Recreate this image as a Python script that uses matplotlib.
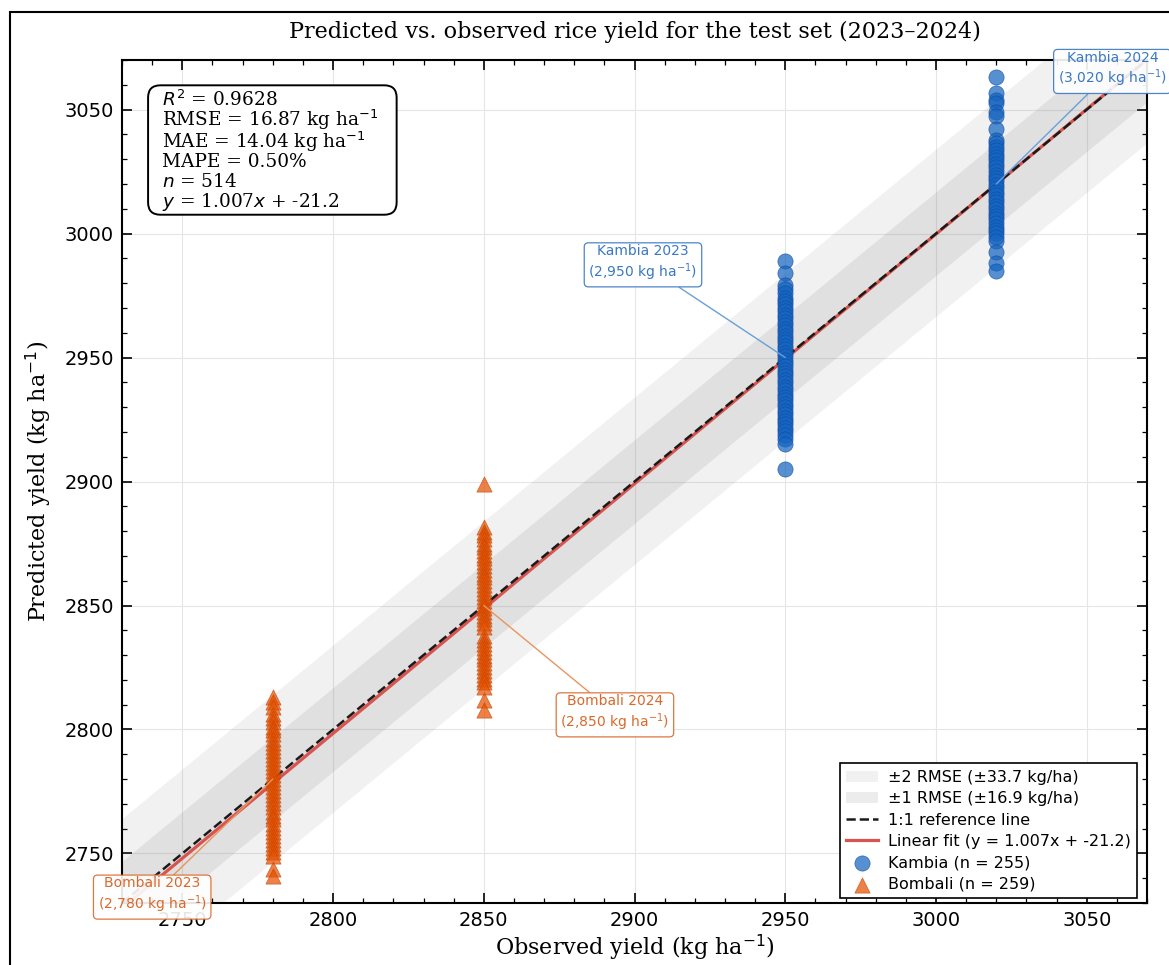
import matplotlib.pyplot as plt
import numpy as np
from matplotlib.patches import Rectangle, FancyBboxPatch
from matplotlib.ticker import MultipleLocator

# observed yield per district/year (kg/ha)
kambia_obs = [2950, 3020]
bombali_obs = [2780, 2850]

# predicted yields (kg/ha)
kambia_2023_pred = [2989.1, 2984.3, 2979.4, 2977.6, 2975.9, 2974.2, 2973.0, 2971.5, 2970.1, 2968.8,
                    2967.2, 2965.9, 2964.5, 2963.1, 2961.6, 2960.4, 2958.8, 2957.5, 2956.1, 2954.6,
                    2953.3, 2952.0, 2950.6, 2949.2, 2947.9, 2946.5, 2945.0, 2943.7, 2942.4, 2940.9,
                    2939.6, 2938.3, 2936.8, 2935.4, 2934.1, 2932.7, 2931.3, 2929.9, 2928.6, 2927.2,
                    2925.7, 2924.5, 2923.1, 2921.6, 2920.2, 2918.8, 2917.3, 2915.2, 2904.9]
kambia_2024_pred = [3063.3, 3056.6, 3053.9, 3052.5, 3049.2, 3047.6, 3042.2, 3037.8, 3036.4, 3035.1,
                    3033.7, 3032.2, 3030.9, 3029.5, 3028.0, 3026.7, 3025.3, 3023.8, 3022.5, 3021.1,
                    3019.6, 3018.3, 3016.9, 3015.4, 3014.1, 3012.7, 3011.2, 3009.9, 3008.5, 3007.0,
                    3005.7, 3004.3, 3002.8, 3001.5, 3000.1, 2998.6, 2997.0, 2992.7, 2988.0, 2985.0]
bombali_2023_pred = [2813.3, 2811.2, 2809.0, 2806.4, 2804.5, 2802.9, 2801.2, 2799.6, 2798.0, 2796.3,
                     2794.7, 2793.1, 2791.4, 2789.8, 2788.2, 2786.5, 2784.9, 2783.3, 2781.6, 2780.0,
                     2778.4, 2776.7, 2775.1, 2773.5, 2771.8, 2770.2, 2768.6, 2766.9, 2765.3, 2763.7,
                     2762.0, 2760.4, 2758.8, 2757.1, 2755.5, 2753.9, 2752.2, 2750.6, 2748.9, 2743.7,
                     2741.0]
bombali_2024_pred = [2898.9, 2881.5, 2879.8, 2878.3, 2876.7, 2875.0, 2873.6, 2872.1, 2870.4, 2869.0,
                     2867.5, 2865.9, 2864.3, 2862.8, 2861.3, 2859.7, 2858.2, 2856.6, 2855.1, 2853.6,
                     2852.0, 2850.4, 2849.0, 2847.5, 2845.9, 2844.4, 2842.8, 2841.3, 2837.6, 2836.0,
                     2834.5, 2832.9, 2831.4, 2829.8, 2828.3, 2826.7, 2825.2, 2823.6, 2822.1, 2820.5,
                     2819.0, 2817.2, 2812.0, 2808.0]

# summary stats shown on the chart
r2 = 0.9628
rmse = 16.87
mae = 14.04
mape = 0.50
n_total = 514
n_kambia = 255
n_bombali = 259
slope = 1.007
intercept = -21.2

lims = (2730, 3070)

kam_x = np.concatenate([np.full(len(kambia_2023_pred), kambia_obs[0]),
                        np.full(len(kambia_2024_pred), kambia_obs[1])])
kam_y = np.array(kambia_2023_pred + kambia_2024_pred)
bom_x = np.concatenate([np.full(len(bombali_2023_pred), bombali_obs[0]),
                        np.full(len(bombali_2024_pred), bombali_obs[1])])
bom_y = np.array(bombali_2023_pred + bombali_2024_pred)

fig = plt.figure(figsize=(11.69, 9.65), dpi=100)
ax = fig.add_axes([0.1044, 0.0642, 0.8768, 0.8736])

xl = np.array(lims)
ax.fill_between(xl, xl - 2 * rmse, xl + 2 * rmse, color='gray', alpha=0.11, lw=0,
                label='±2 RMSE (±%.1f kg/ha)' % (2 * rmse), zorder=1)
ax.fill_between(xl, xl - rmse, xl + rmse, color='gray', alpha=0.15, lw=0,
                label='±1 RMSE (±%.1f kg/ha)' % rmse, zorder=1)
ax.plot(xl, xl, '--', color='#1a1a1a', lw=1.8, label='1:1 reference line', zorder=3)
ax.plot(xl, slope * xl + intercept, '-', color='#d9534f', lw=2.3,
        label='Linear fit (y = %.3fx + %.1f)' % (slope, intercept), zorder=2)

ax.scatter(kam_x, kam_y, s=120, marker='o', color='#1565c0', alpha=0.72,
           edgecolors='#0d47a1', linewidths=0.5, label='Kambia (n = %d)' % n_kambia, zorder=4)
ax.scatter(bom_x, bom_y, s=120, marker='^', color='#e65100', alpha=0.72,
           edgecolors='#bf4300', linewidths=0.5, label='Bombali (n = %d)' % n_bombali, zorder=4)

# annotations
blue_t, blue_l = '#3a78c4', '#6a9fd8'
orng_t, orng_l = '#d9692b', '#e8955e'
ann = [
    ('Kambia 2023\n(2,950 kg ha$^{-1}$)', (2950, 2950), (2902.8, 2988), blue_t, blue_l),
    ('Kambia 2024\n(3,020 kg ha$^{-1}$)', (3020, 3020), (3058.5, 3066), blue_t, blue_l),
    ('Bombali 2024\n(2,850 kg ha$^{-1}$)', (2850, 2850), (2893.5, 2806.5), orng_t, orng_l),
    ('Bombali 2023\n(2,780 kg ha$^{-1}$)', (2780, 2780), (2740, 2733), orng_t, orng_l),
]
for txt, xy, xyt, tc, lc in ann:
    ax.annotate(txt, xy=xy, xytext=xyt, fontsize=10, color=tc, ha='center', va='center',
                annotation_clip=False, zorder=6,
                bbox=dict(boxstyle='round,pad=0.3', fc='white', ec=tc, lw=0.9, alpha=0.9),
                arrowprops=dict(arrowstyle='-', color=lc, lw=1.0, shrinkA=0, shrinkB=0))

# stats box: one text per line so the rows are evenly spaced
stats_lines = ['$R^2$ = %.4f' % r2,
               'RMSE = %.2f kg ha$^{-1}$' % rmse,
               'MAE = %.2f kg ha$^{-1}$' % mae,
               'MAPE = %.2f%%' % mape,
               '$n$ = %d' % n_total,
               '$y$ = %.3f$x$ + %.1f' % (slope, intercept)]
baselines_px = [106, 126, 148, 167, 187, 207]  # baseline of each row, px from top of figure
box = FancyBboxPatch((0.0254, 0.8165), 0.2425, 0.1535, boxstyle='round,pad=0,rounding_size=0.012',
                     transform=ax.transAxes, fc='white', ec='black', lw=1.4, zorder=7,
                     mutation_aspect=1025 / 843)
ax.add_patch(box)
for line, b in zip(stats_lines, baselines_px):
    ax.text(0.039, 1 - (b - 60) / 843, line, transform=ax.transAxes, fontsize=13.3,
            family='DejaVu Serif', va='baseline', ha='left', zorder=8)

ax.set_xlim(lims)
ax.set_ylim(lims)
ax.xaxis.set_major_locator(MultipleLocator(50))
ax.yaxis.set_major_locator(MultipleLocator(50))
ax.xaxis.set_minor_locator(MultipleLocator(10))
ax.yaxis.set_minor_locator(MultipleLocator(10))
ax.tick_params(which='both', direction='in', top=True, right=True, labelsize=14, pad=6)
ax.tick_params(which='major', length=7, width=1.2)
ax.tick_params(which='minor', length=3.5, width=0.9)
ax.grid(True, which='major', color='#e6e6e6', lw=0.8, zorder=0)
ax.set_axisbelow(True)
for s in ax.spines.values():
    s.set_linewidth(1.5)

ax.set_xlabel('Observed yield (kg ha$^{-1}$)', fontsize=16, family='DejaVu Serif', labelpad=2)
ax.set_ylabel('Predicted yield (kg ha$^{-1}$)', fontsize=16, family='DejaVu Serif', labelpad=7)
ax.set_title('Predicted vs. observed rice yield for the test set (2023–2024)', fontsize=16,
             family='DejaVu Serif', pad=16)

leg = ax.legend(loc='lower right', fontsize=11.5, frameon=True, fancybox=False,
                edgecolor='black', framealpha=1, labelspacing=0.4, handletextpad=0.6,
                bbox_to_anchor=(0.998, -0.0036))
leg.get_frame().set_linewidth(1.2)
leg.set_zorder(9)

fig.patches.append(Rectangle((10 / 1169, -0.2), 1.3, 1.2 - 12 / 965, transform=fig.transFigure,
                             fill=False, ec='black', lw=1.5, clip_on=False))

fig.savefig('out.png', dpi=100)
